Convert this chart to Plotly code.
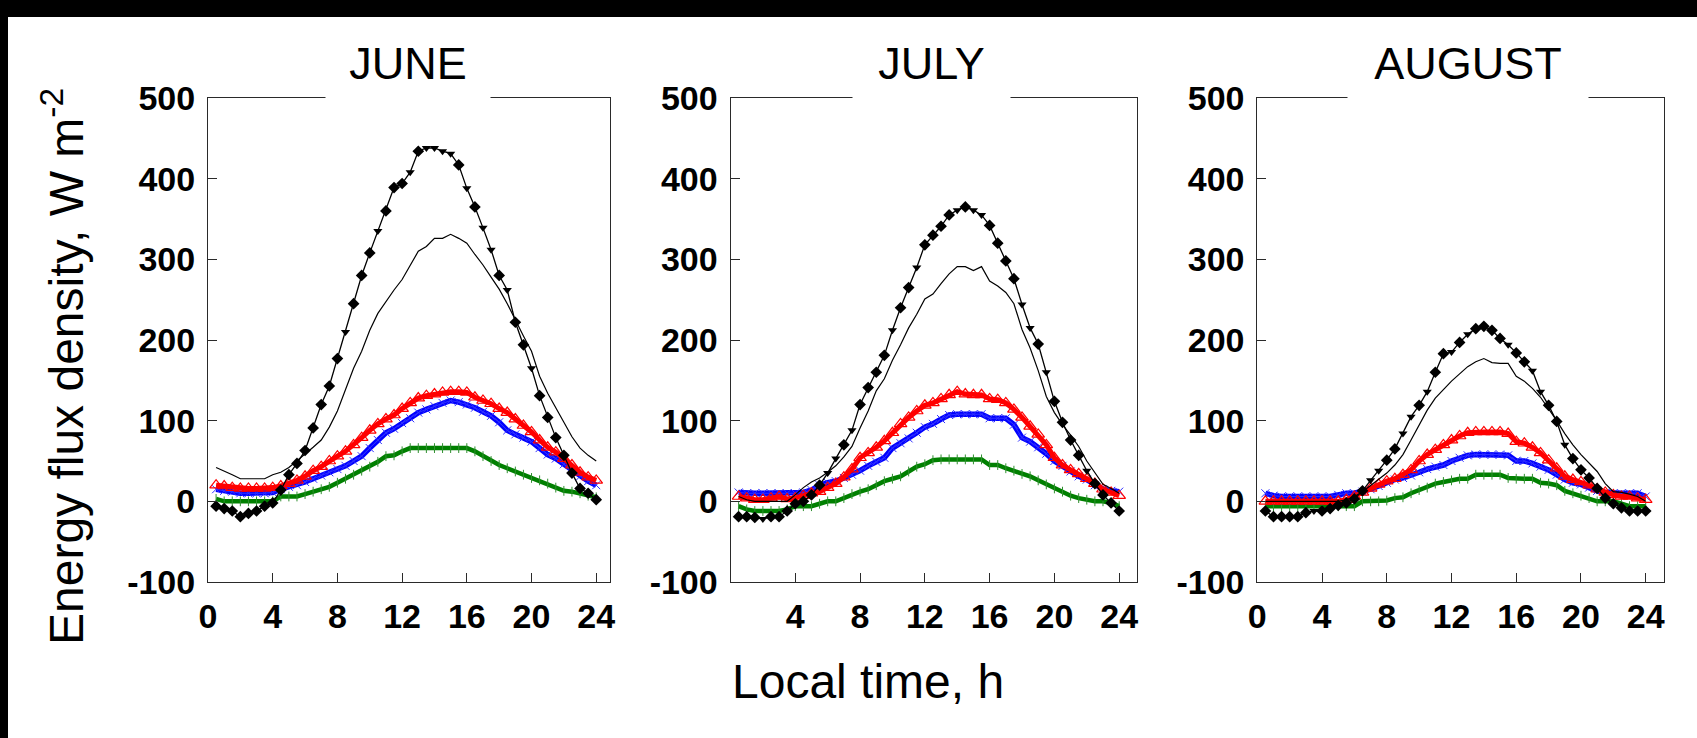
import plotly.graph_objects as go

# Half-hourly time stamps (local time, h)
hours = [0.5, 1.0, 1.5, 2.0, 2.5, 3.0, 3.5, 4.0, 4.5, 5.0, 5.5, 6.0,
         6.5, 7.0, 7.5, 8.0, 8.5, 9.0, 9.5, 10.0, 10.5, 11.0, 11.5, 12.0,
         12.5, 13.0, 13.5, 14.0, 14.5, 15.0, 15.5, 16.0, 16.5, 17.0, 17.5, 18.0,
         18.5, 19.0, 19.5, 20.0, 20.5, 21.0, 21.5, 22.0, 22.5, 23.0, 23.5, 24.0]

months = ["JUNE", "JULY", "AUGUST"]

# Net radiation (black line with filled markers), W m-2
rn_jun = [-6, -9, -12, -19, -15, -12, -6, -2, 14, 33, 47, 63, 91, 120, 143, 177,
          210, 245, 280, 308, 335, 360, 389, 394, 408, 434, 438, 438, 434, 431, 417, 388,
          365, 339, 312, 280, 262, 222, 194, 165, 131, 104, 79, 57, 35, 16, 10, 2]
rn_jul = [-19, -19, -20, -22, -19, -19, -12, -3, 0, 8, 20, 35, 53, 70, 88, 120,
          141, 160, 181, 212, 240, 265, 290, 318, 330, 341, 355, 361, 365, 361, 355, 342,
          320, 298, 276, 244, 215, 195, 160, 124, 98, 76, 57, 38, 22, 8, -2, -12]
rn_aug = [-12, -19, -19, -19, -19, -14, -12, -12, -9, -5, -2, 3, 13, 26, 38, 51,
          65, 84, 105, 119, 136, 160, 183, 185, 197, 207, 214, 217, 212, 202, 194, 184,
          173, 162, 136, 119, 99, 70, 53, 39, 29, 16, 4, -3, -8, -12, -12, -12]

# Hours at which the second radiometer's reading (triangles) is plotted
tri_jun = [8.5, 10.5, 12.5, 13.5, 14.0, 14.5, 15.0, 16.0, 17.0, 17.5, 18.5, 20.0]
tri_jul = [2.0, 6.0, 6.5, 7.5, 10.0, 11.5, 14.0, 15.0, 15.5, 18.0, 18.5, 19.5, 22.0]
tri_aug = [3.5, 7.0, 7.5, 9.0, 9.5, 10.5, 12.0, 13.0, 15.5, 17.0, 17.5, 19.0]

# Thin black line (no markers)
thin_jun = [42, 38, 33, 28, 28, 28, 28, 33, 36, 42, 50, 58, 67, 76, 92, 112,
            138, 165, 186, 212, 233, 248, 262, 275, 293, 310, 316, 326, 326, 331, 326, 320,
            306, 293, 278, 263, 245, 224, 205, 186, 155, 134, 116, 97, 80, 66, 57, 50]
thin_jul = [6, 2, 0, 0, 0, 0, 0, 8, 17, 24, 29, 36, 44, 55, 68, 91,
            112, 137, 152, 175, 194, 215, 232, 251, 257, 270, 282, 291, 291, 286, 291, 273,
            267, 259, 245, 213, 190, 162, 130, 110, 95, 82, 68, 50, 35, 21, 16, 10]
thin_aug = [0, 0, 0, 0, 0, 0, 0, 0, 0, 0, 2, 6, 12, 20, 28, 35,
            45, 58, 76, 94, 113, 128, 139, 149, 158, 167, 173, 177, 172, 171, 171, 155,
            149, 140, 129, 115, 100, 84, 70, 58, 48, 37, 22, 12, 11, 9, 6, 0]

# Red series (open triangles)
red_jun = [20, 19, 17, 16, 16, 16, 16, 17, 19, 22, 26, 31, 38, 43, 50, 56,
           62, 70, 79, 88, 96, 102, 107, 115, 122, 128, 131, 133, 135, 136, 136, 135,
           129, 125, 121, 115, 110, 102, 94, 86, 76, 67, 61, 53, 45, 36, 30, 26]
red_jul = [6, 4, 2, 2, 4, 6, 3, 4, 7, 10, 12, 17, 22, 30, 40, 54,
           60, 67, 75, 85, 96, 104, 112, 119, 122, 127, 132, 136, 133, 132, 132, 127,
           126, 122, 114, 104, 93, 83, 70, 54, 45, 39, 34, 28, 22, 15, 11, 7]
red_aug = [0, 0, 0, 0, 0, 0, 0, 0, 0, 0, 2, 6, 11, 16, 21, 25,
           28, 33, 39, 50, 58, 64, 70, 76, 81, 85, 86, 86, 86, 86, 84, 74,
           72, 67, 60, 51, 41, 31, 27, 24, 20, 15, 11, 8, 6, 6, 4, 2]

# Blue series (crosses)
blue_jun = [15, 13, 12, 10, 10, 10, 10, 11, 15, 18, 20, 24, 28, 32, 36, 40,
            44, 50, 56, 66, 76, 85, 90, 97, 103, 110, 114, 118, 122, 125, 123, 120,
            116, 111, 106, 98, 88, 83, 79, 74, 66, 58, 53, 46, 39, 31, 25, 20]
blue_jul = [11, 10, 10, 10, 10, 10, 10, 10, 11, 14, 20, 23, 25, 29, 33, 38,
            44, 49, 54, 66, 72, 78, 85, 92, 96, 102, 107, 108, 108, 108, 108, 103,
            103, 103, 95, 79, 74, 67, 59, 50, 44, 37, 31, 27, 20, 15, 13, 12]
blue_aug = [10, 7, 6, 6, 6, 6, 6, 6, 6, 8, 10, 10, 12, 15, 19, 23,
            27, 29, 32, 36, 40, 43, 45, 50, 54, 57, 58, 58, 58, 58, 57, 50,
            50, 47, 43, 39, 33, 27, 23, 21, 17, 13, 11, 10, 10, 10, 10, 6]

# Green series (small ticks)
green_jun = [3, 0, 0, 0, 0, 0, 0, 0, 6, 6, 6, 9, 12, 15, 18, 23,
             28, 33, 38, 43, 49, 56, 57, 62, 66, 66, 66, 66, 66, 66, 66, 66,
             62, 56, 50, 45, 41, 37, 33, 29, 26, 22, 17, 13, 12, 10, 7, 5]
green_jul = [-6, -10, -12, -12, -12, -12, -10, -6, -6, -6, -3, 0, 0, 4, 9, 12,
             15, 20, 25, 28, 31, 37, 43, 46, 51, 52, 52, 52, 52, 52, 52, 45,
             45, 41, 38, 34, 31, 26, 21, 16, 12, 7, 4, 2, 0, 0, -2, -6]
green_aug = [-6, -6, -6, -6, -6, -6, -6, -6, -6, -6, -6, -6, 0, 0, 0, 1,
             4, 5, 10, 14, 17, 22, 24, 26, 28, 28, 33, 33, 33, 33, 29, 28,
             28, 28, 23, 22, 20, 13, 10, 7, 4, 0, 0, 0, -3, -6, -6, -6]

y_ticks = [-100, 0, 100, 200, 300, 400, 500]
x_ticks_full = [0, 4, 8, 12, 16, 20, 24]
x_ticks_july = [4, 8, 12, 16, 20, 24]

panels = [
    dict(rn=rn_jun, tri=tri_jun, thin=thin_jun, red=red_jun, blue=blue_jun, green=green_jun,
         xticks=x_ticks_full),
    dict(rn=rn_jul, tri=tri_jul, thin=thin_jul, red=red_jul, blue=blue_jul, green=green_jul,
         xticks=x_ticks_july),
    dict(rn=rn_aug, tri=tri_aug, thin=thin_aug, red=red_aug, blue=blue_aug, green=green_aug,
         xticks=x_ticks_full),
]

# ---- page geometry (pixels) ----
W, H = 1697, 738
ML, MR, MT, MB = 208, 33, 98, 156
PW = W - ML - MR
PH = H - MT - MB


def fx(px):
    return (px - ML) / PW


def fy(py):
    return (H - MB - py) / PH


def dom(a, b):
    return [max(0.0, fx(a)), min(1.0, fx(b))]


frames = [(208, 610.3), (730.5, 1137.0), (1257.3, W - MR)]
x_upper = [24.87, 25.1, 25.13]
title_x = [408, 931, 1468]
title_w = [144, 137, 220]

FONT = "Liberation Sans, Arial, Helvetica, sans-serif"
AX = "#2a2a2a"
GREEN, BLUE, RED = "#008000", "#0000ff", "#ff0000"

fig = go.Figure()
layout_axes = {}

for i, (p, month) in enumerate(zip(panels, months)):
    s = "" if i == 0 else str(i + 1)
    xa, ya = "x" + s, "y" + s

    # green
    fig.add_trace(go.Scatter(x=hours, y=p["green"], xaxis=xa, yaxis=ya, mode="lines",
                             line=dict(color=GREEN, width=4.5), hoverinfo="skip"))
    fig.add_trace(go.Scatter(x=hours, y=p["green"], xaxis=xa, yaxis=ya, mode="markers",
                             marker=dict(symbol="line-ns-open", size=7, color="#2f8f2f",
                                         line=dict(color="#2f8f2f", width=1)),
                             hoverinfo="skip"))
    # blue
    fig.add_trace(go.Scatter(x=hours, y=p["blue"], xaxis=xa, yaxis=ya, mode="lines",
                             line=dict(color=BLUE, width=5.5), hoverinfo="skip"))
    fig.add_trace(go.Scatter(x=hours, y=p["blue"], xaxis=xa, yaxis=ya, mode="lines+markers",
                             line=dict(color="#3030ff", width=1),
                             marker=dict(symbol="x-thin-open", size=8, color="#3030ff",
                                         line=dict(color="#3030ff", width=1)),
                             hoverinfo="skip"))
    # red
    fig.add_trace(go.Scatter(x=hours, y=p["red"], xaxis=xa, yaxis=ya, mode="lines",
                             line=dict(color=RED, width=5), hoverinfo="skip"))
    fig.add_trace(go.Scatter(x=hours, y=p["red"], xaxis=xa, yaxis=ya, mode="lines+markers",
                             line=dict(color=RED, width=1),
                             marker=dict(symbol="triangle-up-open", size=11, color=RED,
                                         line=dict(color=RED, width=1.2)),
                             hoverinfo="skip"))
    # thin black line
    fig.add_trace(go.Scatter(x=hours, y=p["thin"], xaxis=xa, yaxis=ya, mode="lines",
                             line=dict(color="black", width=1.2), hoverinfo="skip"))
    # net radiation: line + diamonds + triangles
    tri_set = set(p["tri"])
    dx = [h for h in hours if h not in tri_set]
    dy = [v for h, v in zip(hours, p["rn"]) if h not in tri_set]
    tx = [h for h in hours if h in tri_set]
    ty = [v for h, v in zip(hours, p["rn"]) if h in tri_set]
    fig.add_trace(go.Scatter(x=hours, y=p["rn"], xaxis=xa, yaxis=ya, mode="lines",
                             line=dict(color="black", width=1.3), hoverinfo="skip"))
    fig.add_trace(go.Scatter(x=dx, y=dy, xaxis=xa, yaxis=ya, mode="markers",
                             marker=dict(symbol="diamond", size=9, color="black"),
                             hoverinfo="skip"))
    fig.add_trace(go.Scatter(x=tx, y=ty, xaxis=xa, yaxis=ya, mode="markers",
                             marker=dict(symbol="triangle-down", size=8, color="black"),
                             hoverinfo="skip"))

    tickfont = dict(family=FONT, size=34, color="black", weight="bold")
    layout_axes["xaxis" + s] = dict(
        domain=dom(*frames[i]), anchor=ya,
        range=[0, x_upper[i]], tickvals=p["xticks"], ticktext=[str(t) for t in p["xticks"]],
        ticks="inside", ticklen=9, tickwidth=1, tickcolor=AX,
        showline=True, linecolor=AX, linewidth=1, mirror=True,
        showgrid=False, zeroline=False, ticklabelstandoff=4, tickfont=tickfont)
    layout_axes["yaxis" + s] = dict(
        domain=[0, 1], anchor=xa,
        range=[-100, 500], tickvals=y_ticks, ticktext=[str(t) for t in y_ticks],
        ticks="inside", ticklen=9, tickwidth=1, tickcolor=AX,
        showline=True, linecolor=AX, linewidth=1, mirror=True,
        showgrid=False, zeroline=False, ticklabelstandoff=5, tickfont=tickfont)

annotations = []
for i, month in enumerate(months):
    annotations.append(dict(
        text=month, xref="paper", yref="paper", x=fx(title_x[i]), y=1,
        xanchor="center", yanchor="bottom", yshift=-2, showarrow=False,
        bgcolor="white", borderpad=10, width=title_w[i], align="center",
        font=dict(family=FONT, size=45, color="black")))

annotations.append(dict(
    text="Energy flux density, W m<sup>-2</sup>", textangle=-90,
    xref="paper", yref="paper", x=fx(63), y=fy(367), xanchor="center", yanchor="middle",
    showarrow=False, font=dict(family=FONT, size=48, color="black")))
annotations.append(dict(
    text="Local time, h", xref="paper", yref="paper", x=fx(868), y=fy(681),
    xanchor="center", yanchor="middle", showarrow=False,
    font=dict(family=FONT, size=48, color="black")))

shapes = [
    dict(type="rect", xref="paper", yref="paper", x0=fx(-10), x1=fx(W + 10),
         y0=fy(17), y1=fy(-10), fillcolor="black", line=dict(width=0), layer="above"),
    dict(type="rect", xref="paper", yref="paper", x0=fx(-10), x1=fx(8),
         y0=fy(H + 10), y1=fy(-10), fillcolor="black", line=dict(width=0), layer="above"),
]

fig.update_layout(
    width=W, height=H,
    margin=dict(l=ML, r=MR, t=MT, b=MB, pad=0, autoexpand=False),
    paper_bgcolor="white", plot_bgcolor="white",
    showlegend=False,
    annotations=annotations, shapes=shapes,
    **layout_axes)

fig.write_html("out.html", config={"displayModeBar": False})
